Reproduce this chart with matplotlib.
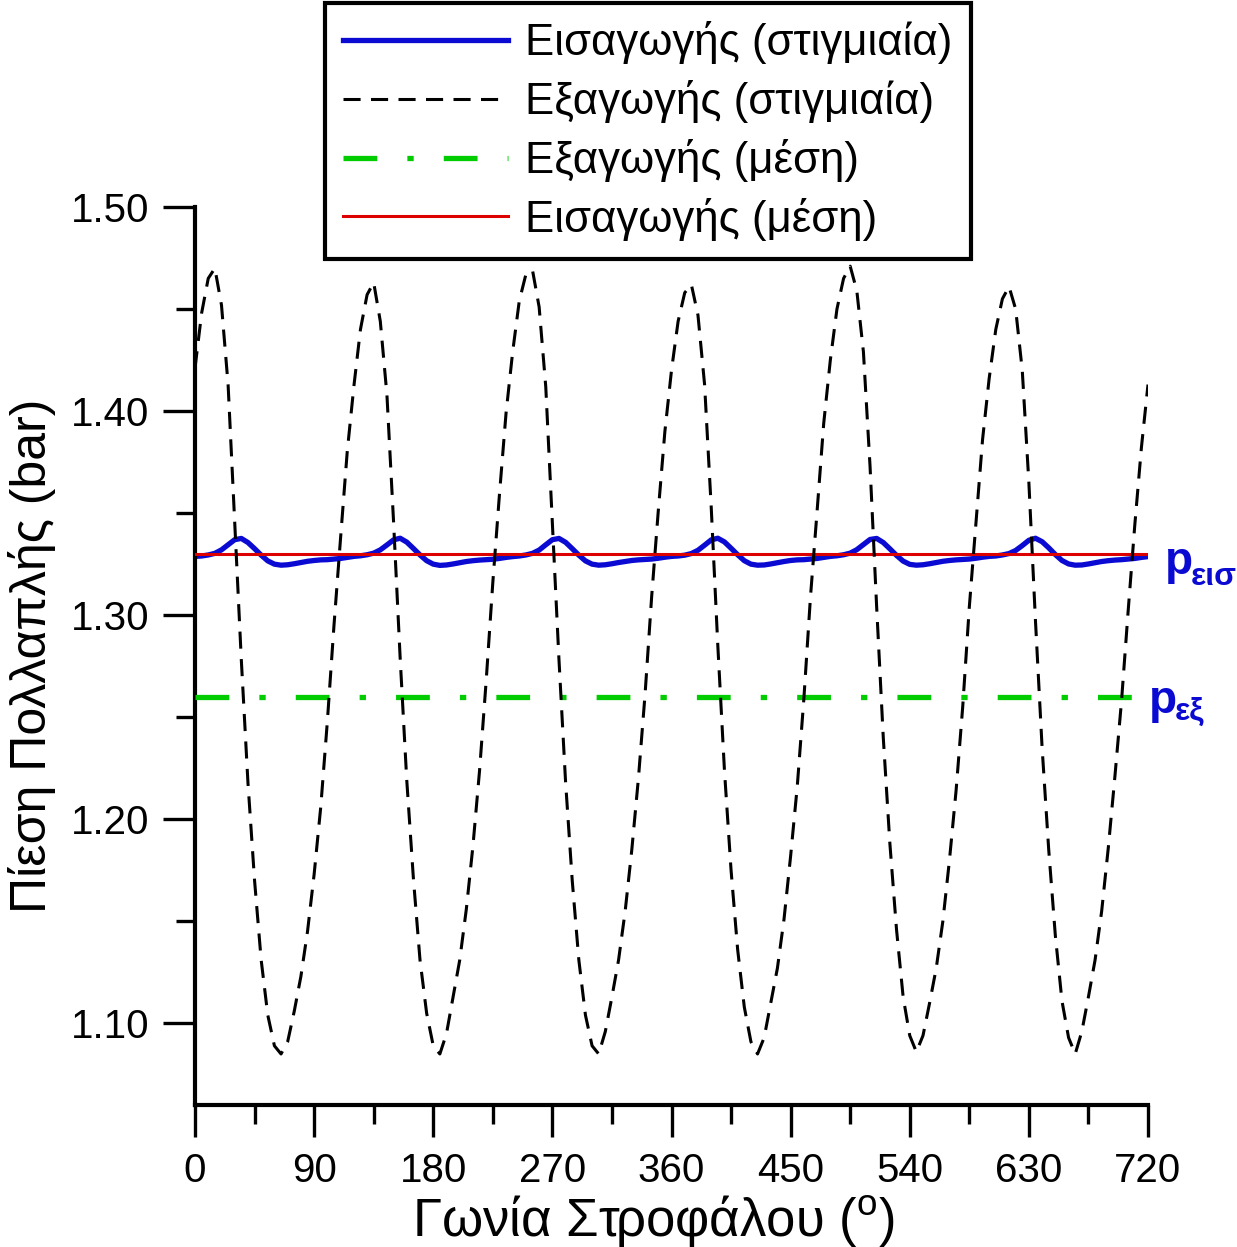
import numpy as np
import matplotlib
matplotlib.use("Agg")
import matplotlib.pyplot as plt
from matplotlib.ticker import MultipleLocator, FormatStrFormatter

plt.rcParams['font.family'] = ['Liberation Sans', 'DejaVu Sans']
plt.rcParams['mathtext.fontset'] = 'custom'
plt.rcParams['mathtext.rm'] = 'Liberation Sans'

# crank angle grid (deg), 5 deg step
crank_angle = np.arange(0, 725, 5)

# exhaust manifold pressure, instantaneous (bar)
exhaust_inst = [
    1.421, 1.448, 1.465, 1.470, 1.452, 1.413, 1.346, 1.278, 1.218, 1.170, 1.131, 1.104,
    1.089, 1.085, 1.091, 1.106, 1.123, 1.145, 1.173, 1.206, 1.248, 1.295, 1.338, 1.380,
    1.412, 1.440, 1.457, 1.463, 1.444, 1.408, 1.346, 1.279, 1.219, 1.171, 1.131, 1.105,
    1.089, 1.085, 1.095, 1.113, 1.131, 1.156, 1.187, 1.224, 1.268, 1.316, 1.359, 1.399,
    1.429, 1.454, 1.467, 1.469, 1.451, 1.412, 1.345, 1.278, 1.218, 1.170, 1.131, 1.104,
    1.089, 1.085, 1.096, 1.113, 1.131, 1.155, 1.185, 1.220, 1.261, 1.309, 1.351, 1.390,
    1.420, 1.444, 1.458, 1.462, 1.447, 1.413, 1.353, 1.285, 1.224, 1.175, 1.136, 1.108,
    1.091, 1.085, 1.093, 1.110, 1.127, 1.151, 1.182, 1.216, 1.259, 1.309, 1.351, 1.394,
    1.425, 1.450, 1.465, 1.471, 1.459, 1.429, 1.373, 1.304, 1.240, 1.188, 1.146, 1.113,
    1.094, 1.086, 1.094, 1.110, 1.127, 1.150, 1.180, 1.214, 1.255, 1.304, 1.345, 1.386,
    1.416, 1.440, 1.455, 1.461, 1.450, 1.420, 1.365, 1.297, 1.235, 1.185, 1.143, 1.111,
    1.093, 1.085, 1.096, 1.113, 1.131, 1.155, 1.186, 1.221, 1.258, 1.302, 1.344, 1.382,
    1.413,
]

# intake manifold pressure, instantaneous (bar)
intake_inst = [
    1.3288, 1.3290, 1.3295, 1.3303, 1.3320, 1.3345, 1.3370, 1.3376, 1.3356, 1.3326, 1.3294, 1.3266,
    1.3250, 1.3245, 1.3247, 1.3252, 1.3258, 1.3264, 1.3268, 1.3271, 1.3272, 1.3275, 1.3278, 1.3283,
    1.3288, 1.3291, 1.3296, 1.3304, 1.3320, 1.3344, 1.3369, 1.3377, 1.3358, 1.3327, 1.3295, 1.3267,
    1.3250, 1.3244, 1.3246, 1.3251, 1.3257, 1.3263, 1.3267, 1.3270, 1.3272, 1.3274, 1.3278, 1.3283,
    1.3287, 1.3290, 1.3295, 1.3303, 1.3319, 1.3345, 1.3370, 1.3376, 1.3357, 1.3326, 1.3294, 1.3266,
    1.3250, 1.3245, 1.3247, 1.3252, 1.3258, 1.3263, 1.3268, 1.3271, 1.3273, 1.3275, 1.3279, 1.3284,
    1.3288, 1.3290, 1.3294, 1.3302, 1.3318, 1.3343, 1.3369, 1.3377, 1.3359, 1.3328, 1.3296, 1.3267,
    1.3250, 1.3245, 1.3246, 1.3251, 1.3257, 1.3263, 1.3268, 1.3271, 1.3272, 1.3275, 1.3278, 1.3283,
    1.3288, 1.3291, 1.3296, 1.3304, 1.3321, 1.3346, 1.3371, 1.3376, 1.3356, 1.3325, 1.3293, 1.3265,
    1.3249, 1.3245, 1.3247, 1.3252, 1.3258, 1.3264, 1.3268, 1.3271, 1.3273, 1.3275, 1.3279, 1.3284,
    1.3288, 1.3290, 1.3295, 1.3302, 1.3317, 1.3341, 1.3367, 1.3377, 1.3360, 1.3330, 1.3297, 1.3268,
    1.3251, 1.3245, 1.3246, 1.3251, 1.3257, 1.3263, 1.3267, 1.3270, 1.3272, 1.3275, 1.3278, 1.3283,
    1.3287,
]

# mean pressures (bar)
mean_angle = [0, 720]
exhaust_mean = [1.26, 1.26]
intake_mean = [1.33, 1.33]

labels = ['Εισαγωγής (στιγμιαία)', 'Εξαγωγής (στιγμιαία)',
          'Εξαγωγής (μέση)', 'Εισαγωγής (μέση)']

blue = '#0a0ad2'
red = '#dc0000'
green = '#00cc00'

fig = plt.figure(figsize=(12.37, 12.47), dpi=100)
ax = fig.add_axes([195/1237, 1 - 1105/1247, 953/1237, 898/1247])

l_in, = ax.plot(crank_angle, intake_inst, color=blue, lw=3.8, zorder=2)
l_exm, = ax.plot(mean_angle, exhaust_mean, color=green, lw=3.8,
                 dashes=(6.4, 5.7, 1.2, 5.7), zorder=3)
l_inm, = ax.plot(mean_angle, intake_mean, color=red, lw=2.2, zorder=4)
l_ex, = ax.plot(crank_angle, exhaust_inst, color='black', lw=2.2,
                dashes=(5.6, 3.4), zorder=5)

ax.set_xlim(0, 720)
ax.set_ylim(1.06, 1.50)
ax.spines['top'].set_visible(False)
ax.spines['right'].set_visible(False)
ax.spines['left'].set_linewidth(3)
ax.spines['bottom'].set_linewidth(3)

ax.xaxis.set_major_locator(MultipleLocator(90))
ax.xaxis.set_minor_locator(MultipleLocator(45))
ax.yaxis.set_major_locator(MultipleLocator(0.10))
ax.yaxis.set_minor_locator(MultipleLocator(0.05))
ax.yaxis.set_major_formatter(FormatStrFormatter('%.2f'))

ax.tick_params(which='major', direction='out', length=23, width=2.4, labelsize=29)
ax.tick_params(which='minor', direction='out', length=14, width=2.4)
ax.tick_params(axis='x', which='major', pad=11)
ax.tick_params(axis='y', which='major', pad=10)

ax.set_xlabel('Γωνία Στροφάλου ($^{\\mathrm{o}}$)', fontsize=38)
ax.xaxis.set_label_coords((654 - 195) / 953, -0.098)
ax.set_ylabel('Πίεση Πολλαπλής (bar)', fontsize=36)
ax.yaxis.set_label_coords(-0.146, 0.5)

# labels of the mean lines
ax.text(733, 1.320, 'p', color=blue, fontsize=33, fontweight='bold', clip_on=False)
ax.text(752, 1.315, 'εισ', color=blue, fontsize=23, fontweight='bold', clip_on=False)
ax.text(721, 1.2523, 'p', color=blue, fontsize=33, fontweight='bold', clip_on=False)
ax.text(740, 1.2488, 'εξ', color=blue, fontsize=23, fontweight='bold', clip_on=False)

leg = fig.legend([l_in, l_ex, l_exm, l_inm], labels,
                 loc='upper left', bbox_to_anchor=(325/1237, 1 - 3/1247),
                 fontsize=31.5, frameon=True, fancybox=False, framealpha=1,
                 edgecolor='black', handlelength=3.77, handletextpad=0.39,
                 labelspacing=0.36, borderpad=0.42, borderaxespad=0)
leg.get_frame().set_linewidth(3)

fig.savefig('out.png', dpi=100)
